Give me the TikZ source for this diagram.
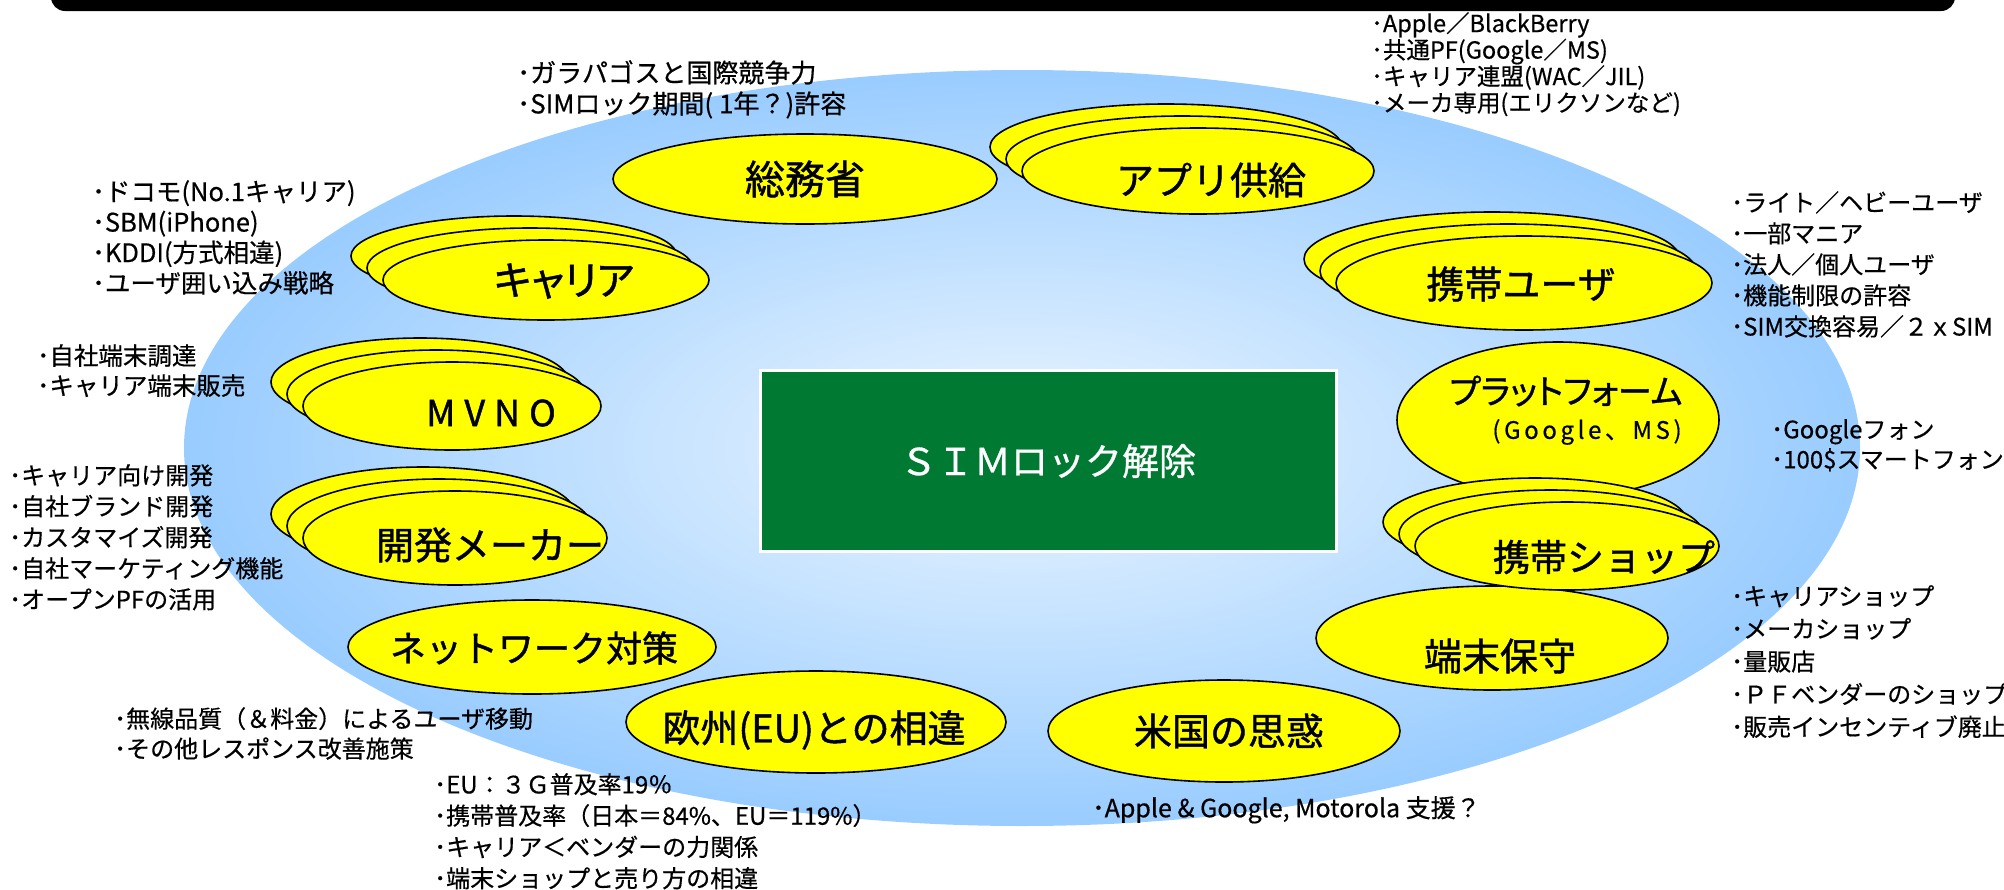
\documentclass[tikz,border=0pt]{standalone}
\usepackage{fontspec}
\setmainfont{Noto Sans CJK JP}
\usetikzlibrary{shapes.geometric}
\definecolor{ylw}{RGB}{255,255,0}
\definecolor{bluein}{RGB}{236,246,255}
\definecolor{blueout}{RGB}{153,204,255}
\definecolor{grn}{RGB}{0,122,50}
\tikzset{
  yel/.style={ellipse, draw=black, line width=1.6pt, fill=ylw, inner sep=0pt},
  lab/.style={inner sep=0pt, font=\fontsize{38}{40}\selectfont\addfontfeature{FakeBold=1.2}},
  note/.style={anchor=north west, inner sep=0pt, align=left, font=\fontsize{24}{31}\selectfont\addfontfeature{FakeBold=0.5}},
}
\begin{document}
\begin{tikzpicture}[x=1pt,y=-1pt]
\useasboundingbox (0,0) rectangle (2004,889);
\fill[black, rounded corners=14pt] (51,-40) rectangle (1955,11);
\shade[inner color=bluein, outer color=blueout] (1022,448) ellipse [x radius=838pt, y radius=378pt];

% green centre box
\node[draw=white, line width=3pt, fill=grn, minimum width=576pt, minimum height=181pt, text=white, font=\fontsize{37}{40}\selectfont\addfontfeature{FakeBold=0.8}] (sim) at (1048,461) {ＳＩＭロック解除};

% single ellipses
\node[yel, minimum width=384pt, minimum height=90pt] (soumu) at (805,179) {};
\node[yel, minimum width=322pt, minimum height=156pt] (pf) at (1558,420) {};
\node[yel, minimum width=352pt, minimum height=104pt] (maint) at (1492,638) {};
\node[yel, minimum width=352pt, minimum height=102pt] (usa) at (1224,731) {};
\node[yel, minimum width=380pt, minimum height=102pt] (eu) at (816,722) {};
\node[yel, minimum width=368pt, minimum height=94pt] (net) at (532,647) {};

% stacked ellipses
\node[yel, minimum width=352pt, minimum height=86pt] (app3) at (1166,147) {};
\node[yel, minimum width=352pt, minimum height=86pt] (app2) at (1182,159) {};
\node[yel, minimum width=352pt, minimum height=86pt] (app1) at (1198,171) {};

\node[yel, minimum width=376pt, minimum height=94pt] (usr3) at (1492,259) {};
\node[yel, minimum width=376pt, minimum height=94pt] (usr2) at (1508,271) {};
\node[yel, minimum width=376pt, minimum height=94pt] (usr1) at (1524,283) {};

\node[yel, minimum width=304pt, minimum height=88pt] (shp3) at (1535,522) {};
\node[yel, minimum width=304pt, minimum height=88pt] (shp2) at (1551,534) {};
\node[yel, minimum width=304pt, minimum height=88pt] (shp1) at (1567,546) {};

\node[yel, minimum width=304pt, minimum height=94pt] (dev3) at (423,514) {};
\node[yel, minimum width=304pt, minimum height=94pt] (dev2) at (439,526) {};
\node[yel, minimum width=304pt, minimum height=94pt] (dev1) at (455,538) {};

\node[yel, minimum width=298pt, minimum height=88pt] (mv3) at (420,382) {};
\node[yel, minimum width=298pt, minimum height=88pt] (mv2) at (436,394) {};
\node[yel, minimum width=298pt, minimum height=88pt] (mv1) at (452,406) {};

\node[yel, minimum width=326pt, minimum height=80pt] (car3) at (514,256) {};
\node[yel, minimum width=326pt, minimum height=80pt] (car2) at (530,268) {};
\node[yel, minimum width=326pt, minimum height=80pt] (car1) at (546,280) {};

% labels
\node[lab, font=\fontsize{40}{42}\selectfont\addfontfeature{FakeBold=1.2}] (soumuL) at (805,179) {総務省};
\node[lab] (appL) at (1211,180) {アプリ供給};
\node[lab] (usrL) at (1521,284) {携帯ユーザ};
\node[lab, font=\fontsize{34}{38}\selectfont\addfontfeature{FakeBold=1.2,RawFeature=+palt}] (pfL) at (1566,391) {プラットフォーム};
\node[inner sep=0pt, font=\fontsize{24}{26}\selectfont\addfontfeature{LetterSpace=15,FakeBold=0.5}] (pfS) at (1587,432) {(Google、MS)};
\node[lab, font=\fontsize{37}{40}\selectfont\addfontfeature{FakeBold=1.2}] (shpL) at (1604,557) {携帯ショップ};
\node[lab] (maintL) at (1500,656) {端末保守};
\node[lab] (usaL) at (1229,731) {米国の思惑};
\node[lab] (euL) at (814,730) {欧州(EU)との相違};
\node[lab, font=\fontsize{36}{40}\selectfont\addfontfeature{FakeBold=1.2}] (netL) at (534,648) {ネットワーク対策};
\node[lab] (devL) at (490,545) {開発メーカー};
\node[lab, font=\fontsize{36}{40}\selectfont\addfontfeature{LetterSpace=25,FakeBold=1.2}] (mvL) at (491,413) {MVNO};
\node[lab, font=\fontsize{40}{42}\selectfont\addfontfeature{FakeBold=1.2,RawFeature=+palt}] (carL) at (564,281) {キャリア};

% notes
\node[note, font=\fontsize{23.5}{26.5}\selectfont\addfontfeature{FakeBold=0.5}] (nA) at (1371,12) {･Apple／BlackBerry\\･共通PF(Google／MS)\\･キャリア連盟(WAC／JIL)\\･メーカ専用(エリクソンなど)};
\node[note, font=\fontsize{26}{31}\selectfont\addfontfeature{FakeBold=0.5}] (nB) at (517,60) {･ガラパゴスと国際競争力\\･SIMロック期間( 1年？)許容};
\node[note, font=\fontsize{25.5}{30.5}\selectfont\addfontfeature{FakeBold=0.5}] (nC) at (92,180) {･ドコモ(No.1キャリア)\\･SBM(iPhone)\\･KDDI(方式相違)\\･ユーザ囲い込み戦略};
\node[note] (nD) at (1731,191) {･ライト／ヘビーユーザ\\･一部マニア\\･法人／個人ユーザ\\･機能制限の許容\\･SIM交換容易／２ｘSIM};
\node[note, font=\fontsize{24.5}{30}\selectfont\addfontfeature{FakeBold=0.5}] (nE) at (37,344) {･自社端末調達\\･キャリア端末販売};
\node[note] (nF) at (9,464) {･キャリア向け開発\\･自社ブランド開発\\･カスタマイズ開発\\･自社マーケティング機能\\･オープンPFの活用};
\node[note, font=\fontsize{24}{30}\selectfont\addfontfeature{FakeBold=0.5}] (nG) at (1771,419) {･Googleフォン\\･100\$スマートフォン};
\node[note, font=\fontsize{24}{32.7}\selectfont\addfontfeature{FakeBold=0.5}] (nH) at (1731,585) {･キャリアショップ\\･メーカショップ\\･量販店\\･ＰＦベンダーのショップ\\･販売インセンティブ廃止};
\node[note, font=\fontsize{24}{30}\selectfont\addfontfeature{FakeBold=0.5}] (nI) at (114,707) {･無線品質（＆料金）によるユーザ移動\\･その他レスポンス改善施策};
\node[note, font=\fontsize{24}{31.3}\selectfont\addfontfeature{FakeBold=0.5}] (nJ) at (434,773) {･EU：３Ｇ普及率19％\\･携帯普及率（日本＝84\%、EU＝119\%）\\･キャリア＜ベンダーの力関係\\･端末ショップと売り方の相違};
\node[note, font=\fontsize{25}{31}\selectfont\addfontfeature{FakeBold=0.5}] (nK) at (1092,796) {･Apple \& Google, Motorola 支援？};
\end{tikzpicture}
\end{document}
